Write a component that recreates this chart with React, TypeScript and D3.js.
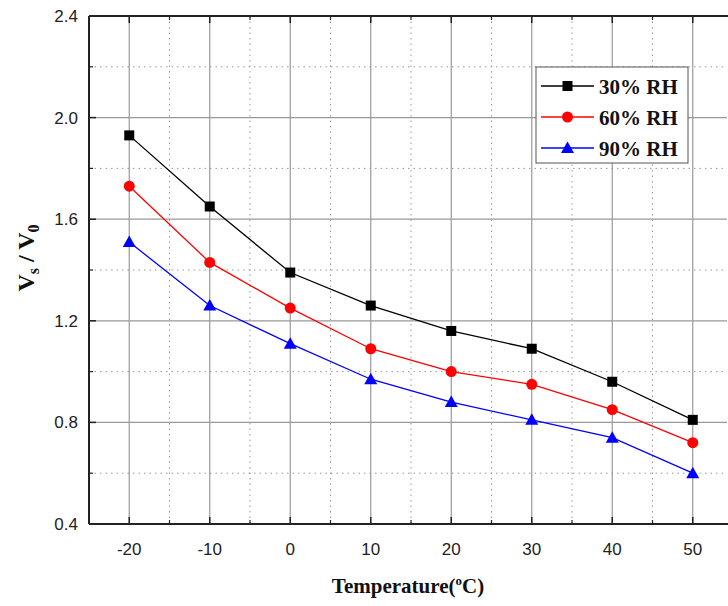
import React from "react";
import * as d3 from "d3";

const temps = [-20, -10, 0, 10, 20, 30, 40, 50];
const rh30 = [1.93, 1.65, 1.39, 1.26, 1.16, 1.09, 0.96, 0.81];
const rh60 = [1.73, 1.43, 1.25, 1.09, 1.0, 0.95, 0.85, 0.72];
const rh90 = [1.51, 1.26, 1.11, 0.97, 0.88, 0.81, 0.74, 0.6];
const xTicks = [-20, -10, 0, 10, 20, 30, 40, 50];
const xMinor = [-15, -5, 5, 15, 25, 35, 45];
const yTicks = [0.4, 0.8, 1.2, 1.6, 2.0, 2.4];
const yMinor = [0.6, 1.0, 1.4, 1.8, 2.2];
const seriesNames = ["30% RH", "60% RH", "90% RH"];

export default function App() {
  const W = 728, H = 606;
  const L = 89, T = 16, B = 524;
  const x = d3.scaleLinear().domain([-25, 55]).range([L, L + 80 * 8.05]);
  const y = d3.scaleLinear().domain([0.4, 2.4]).range([B, T]);
  const R = 727;
  const series = [
    { name: seriesNames[0], data: rh30, color: "#000000", shape: "square" },
    { name: seriesNames[1], data: rh60, color: "#ff0000", shape: "circle" },
    { name: seriesNames[2], data: rh90, color: "#0000ff", shape: "triangle" },
  ];
  const line = (d: number[]) =>
    d3.line<number>().x((_, i) => x(temps[i])).y((v) => y(v))(d) as string;
  const marker = (shape: string, cx: number, cy: number, color: string, k: number) => {
    if (shape === "square") return <rect key={k} x={cx - 5} y={cy - 5} width={10} height={10} fill={color} />;
    if (shape === "circle") return <circle key={k} cx={cx} cy={cy} r={5.5} fill={color} />;
    return <path key={k} d={`M${cx},${cy - 6.5}L${cx + 6.5},${cy + 5}L${cx - 6.5},${cy + 5}Z`} fill={color} />;
  };
  return (
    <svg width={W} height={H} style={{ position: "absolute", left: 0, top: 0, background: "#fff" }}>
      <defs>
        <clipPath id="c"><rect x={L} y={T} width={R - L} height={B - T} /></clipPath>
      </defs>
      <g clipPath="url(#c)">
        {xTicks.map((t) => <line key={"gx" + t} x1={x(t)} x2={x(t)} y1={T} y2={B} stroke="#999" strokeWidth={1.2} />)}
        {yTicks.map((t) => <line key={"gy" + t} x1={L} x2={R} y1={y(t)} y2={y(t)} stroke="#999" strokeWidth={1.2} />)}
        {xMinor.map((t) => <line key={"mx" + t} x1={x(t)} x2={x(t)} y1={T} y2={B} stroke="#999" strokeDasharray="1.5,4" />)}
        {yMinor.map((t) => <line key={"my" + t} x1={L} x2={R} y1={y(t)} y2={y(t)} stroke="#999" strokeDasharray="1.5,4" />)}
      </g>
      {xTicks.map((t) => (
        <g key={"tx" + t}>
          <line x1={x(t)} x2={x(t)} y1={B} y2={B - 7} stroke="#222" strokeWidth={1.5} />
          <line x1={x(t)} x2={x(t)} y1={T} y2={T + 7} stroke="#222" strokeWidth={1.5} />
          <text x={x(t)} y={B + 31} textAnchor="middle" fontFamily="Liberation Sans, Arial" fontSize={17} fill="#222">{t}</text>
        </g>
      ))}
      {xMinor.map((t) => (
        <g key={"tmx" + t}>
          <line x1={x(t)} x2={x(t)} y1={B} y2={B - 4} stroke="#222" strokeWidth={1.2} />
          <line x1={x(t)} x2={x(t)} y1={T} y2={T + 4} stroke="#222" strokeWidth={1.2} />
        </g>
      ))}
      {yTicks.map((t) => (
        <g key={"ty" + t}>
          <line x1={L} x2={L + 7} y1={y(t)} y2={y(t)} stroke="#222" strokeWidth={1.5} />
          <text x={L - 11} y={y(t) + 6} textAnchor="end" fontFamily="Liberation Sans, Arial" fontSize={17} fill="#222">{t.toFixed(1)}</text>
        </g>
      ))}
      {yMinor.map((t) => <line key={"tmy" + t} x1={L} x2={L + 4} y1={y(t)} y2={y(t)} stroke="#222" strokeWidth={1.2} />)}
      <line x1={L} x2={R + 1} y1={T} y2={T} stroke="#222" strokeWidth={2} />
      <line x1={L} x2={R + 1} y1={B} y2={B} stroke="#222" strokeWidth={2} />
      <line x1={L} x2={L} y1={T} y2={B} stroke="#222" strokeWidth={2} />
      {series.map((s) => (
        <g key={s.name}>
          <path d={line(s.data)} fill="none" stroke={s.color} strokeWidth={1.3} />
          {s.data.map((v, i) => marker(s.shape, x(temps[i]), y(v), s.color, i))}
        </g>
      ))}
      <rect x={536} y={67} width={152} height={96} fill="#fff" stroke="#555" strokeWidth={1} />
      {series.map((s, i) => {
        const cy = 86 + i * 31;
        return (
          <g key={"lg" + i}>
            <line x1={541} x2={594} y1={cy} y2={cy} stroke={s.color} strokeWidth={1.3} />
            {marker(s.shape, 567.5, cy, s.color, 0)}
            <text x={599} y={cy + 8} fontFamily="Liberation Serif, Times New Roman" fontWeight="bold" fontSize={21} fill="#111">{s.name}</text>
          </g>
        );
      })}
      <text x={408} y={593} textAnchor="middle" fontFamily="Liberation Serif, Times New Roman" fontWeight="bold" fontSize={21} fill="#111">
        Temperature(<tspan dy={-8} fontSize={13}>o</tspan><tspan dy={8}>C)</tspan>
      </text>
      <text transform="translate(34,258) rotate(-90)" textAnchor="middle" fontFamily="Liberation Serif, Times New Roman" fontWeight="bold" fontSize={24} fill="#111">
        V<tspan fontSize={16} dy={5}>s</tspan><tspan dy={-5}> / V</tspan><tspan fontSize={16} dy={5}>0</tspan>
      </text>
    </svg>
  );
}
